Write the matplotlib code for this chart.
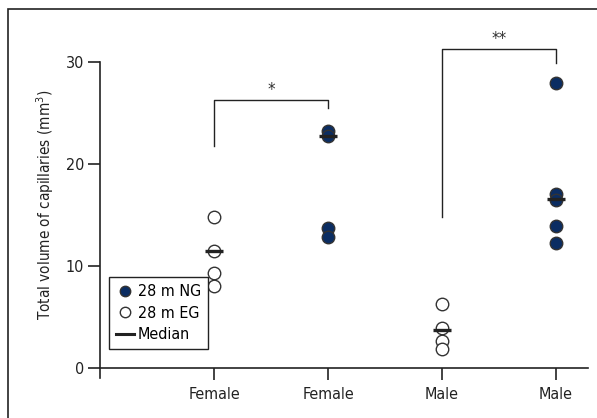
import numpy as np
import matplotlib.pyplot as plt
from matplotlib.lines import Line2D
from matplotlib.patches import Rectangle

plt.rcParams['font.family'] = ['DejaVu Sans']
plt.rcParams['font.stretch'] = 'condensed'

# datos
grupos = ['Female', 'Female', 'Male', 'Male']
fem_eg = [14.8, 11.5, 9.3, 8.0]
fem_ng = [23.2, 22.7, 13.7, 12.8]
male_eg = [6.3, 3.9, 2.6, 1.9]
male_ng = [27.9, 17.1, 16.5, 13.9, 12.3]
medianas = [11.5, 22.7, 3.7, 16.6]

azul = '#0b2d62'
borde = '#333333'
negro = '#222222'

fig = plt.figure(figsize=(5.97, 4.18), dpi=100)
ax = fig.add_axes([0.1675, 0.0952, 0.8175, 0.8297])

# marco exterior (solo se ve arriba y a la izquierda)
fig.patches.append(Rectangle((8 / 597, -0.1), 1.2, 1 - 9.3 / 418 + 0.1,
                             transform=fig.transFigure, fill=False,
                             edgecolor=negro, linewidth=1.2))

ms = 9
for i, (vals, lleno) in enumerate([(fem_eg, False), (fem_ng, True),
                                    (male_eg, False), (male_ng, True)]):
    x = np.full(len(vals), i + 1)
    ax.plot(x, vals, 'o', ms=ms, mfc=azul if lleno else 'white',
            mec=borde, mew=1, zorder=3)
    ax.plot([i + 1 - 0.08, i + 1 + 0.08], [medianas[i]] * 2, color=negro,
            lw=2.4, solid_capstyle='butt', zorder=4)

# corchetes de significancia
def corchete(ax, x1, x2, y1, ytop, y2, texto):
    ax.plot([x1, x1, x2, x2], [y1, ytop, ytop, y2], color=negro, lw=1)
    ax.text((x1 + x2) / 2, ytop + 0.1, texto, ha='center', va='bottom',
            fontsize=12, color='#333333')

corchete(ax, 1, 2, 21.8, 26.3, 25.5, '*')
corchete(ax, 3, 4, 14.8, 31.3, 29.9, '**')

ax.set_xlim(0, 4.28)
ax.set_ylim(-1, 33)
ax.set_xticks([1, 2, 3, 4])
ax.set_xticklabels(grupos)
ax.set_yticks([0, 10, 20, 30])
ax.spines['top'].set_visible(False)
ax.spines['right'].set_visible(False)
ax.spines['bottom'].set_position(('data', 0))
ax.spines['left'].set_bounds(-1, 30)
for s in ['left', 'bottom']:
    ax.spines[s].set_linewidth(1.2)
    ax.spines[s].set_color(negro)
ax.tick_params(axis='both', direction='out', length=8.5, width=1.2,
               labelsize=11.5, color=negro, labelcolor=negro)
ax.tick_params(axis='x', pad=5)
ax.tick_params(axis='y', pad=3)
ax.set_ylabel('Total volume of capillaries (mm$^3$)', fontsize=11,
              color=negro, labelpad=7)

handles = [
    Line2D([], [], marker='o', ls='none', ms=7.5, mfc=azul, mec=borde),
    Line2D([], [], marker='o', ls='none', ms=7.5, mfc='white', mec=borde),
    Line2D([], [], color=negro, lw=2.2),
]
leg = ax.legend(handles, ['28 m NG', '28 m EG', 'Median'], loc='upper left',
                bbox_to_anchor=(0.018, 0.291), borderaxespad=0, fontsize=11.5,
                fancybox=False, handlelength=1.1, handletextpad=0.25,
                labelspacing=0.4, borderpad=0.45, framealpha=1)
leg.get_frame().set_edgecolor(negro)
leg.get_frame().set_linewidth(1)

fig.savefig('out.png', dpi=100)
